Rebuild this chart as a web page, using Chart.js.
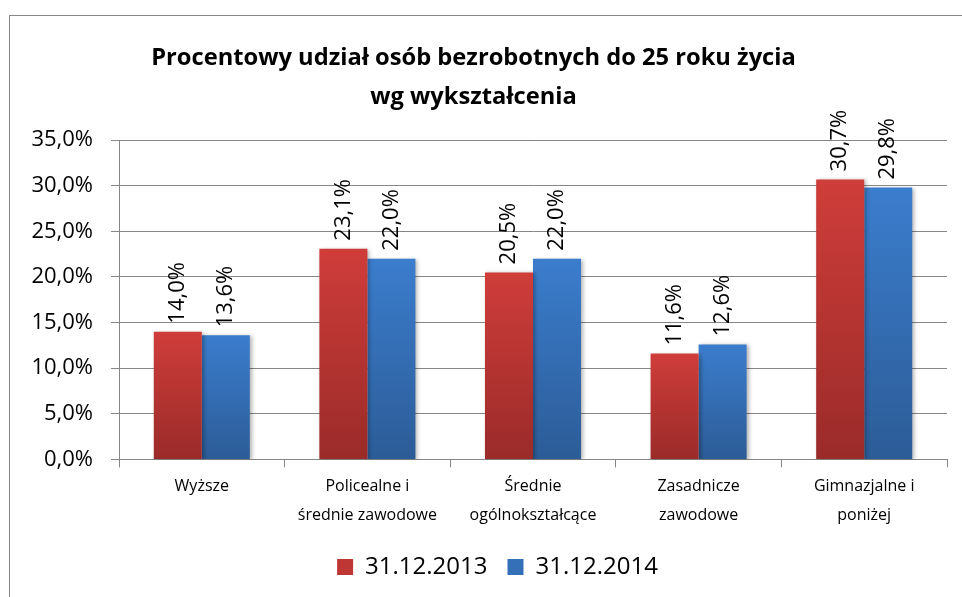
<!DOCTYPE html>
<html>
<head>
<meta charset="utf-8">
<script src="https://cdn.jsdelivr.net/npm/chart.js@4"></script>
<style>
  html, body { margin: 0; padding: 0; background: #fff; overflow: hidden; }
  #wrap { position: relative; width: 962px; height: 597px; }
  #frame { position: absolute; left: 9px; top: 15px; width: 1000px; height: 700px; border: 1px solid #868686; }
  canvas { position: absolute; left: 0; top: 0; }
</style>
</head>
<body>
<div id="wrap">
  <div id="frame"></div>
  <canvas id="barchart" width="962" height="597"></canvas>
</div>
<script>
// Data
const categories = ['Wyższe', ['Policealne i', 'średnie zawodowe'], ['Średnie', 'ogólnokształcące'], ['Zasadnicze', 'zawodowe'], ['Gimnazjalne i', 'poniżej']];
const seriesNames = ['31.12.2013', '31.12.2014'];
const values2013 = [14.0, 23.1, 20.5, 11.6, 30.7];
const values2014 = [13.6, 22.0, 22.0, 12.6, 29.8];
const yTicks = [0, 5, 10, 15, 20, 25, 30, 35];

const FONT = "'Open Sans', 'Noto Sans', sans-serif";

function fmt(v) {
    return v.toFixed(1).replace('.', ',') + '%';
}

// vertical gradient per bar, like the Excel fill
function barFill(top, bottom) {
    return function (context) {
        const chart = context.chart;
        const area = chart.chartArea;
        if (!area || context.parsed === undefined) return top;
        const y = chart.scales.y.getPixelForValue(context.parsed.y);
        const g = chart.ctx.createLinearGradient(0, y, 0, area.bottom);
        g.addColorStop(0, top);
        g.addColorStop(1, bottom);
        return g;
    };
}

// shadow under the bars plus rotated value labels
const barExtras = {
    id: 'barExtras',
    afterLayout(chart) {
        // legend sits a bit right of the canvas centre in the original
        chart.legend.left += 24;
        chart.legend.right += 24;
    },
    beforeDatasetsDraw(chart) {
        const c = chart.ctx;
        c.save();
        c.shadowColor = 'rgba(0,0,0,0.3)';
        c.shadowBlur = 4;
        c.shadowOffsetX = 2;
        c.shadowOffsetY = 1;
    },
    afterDatasetsDraw(chart) {
        const c = chart.ctx;
        c.restore();
        c.save();
        c.font = '22px ' + FONT;
        c.fillStyle = '#000';
        c.textAlign = 'left';
        c.textBaseline = 'middle';
        chart.data.datasets.forEach((ds, i) => {
            chart.getDatasetMeta(i).data.forEach((bar, j) => {
                c.save();
                c.translate(bar.x, bar.y - 8);
                c.rotate(-Math.PI / 2);
                c.fillText(fmt(ds.data[j]), 0, 0);
                c.restore();
            });
        });
        c.restore();
    }
};

let ctx = document.getElementById('barchart').getContext('2d');
let barchart = new Chart(ctx, {
    type: 'bar',
    data: {
        labels: categories,
        datasets: [{
            label: seriesNames[0],
            data: values2013,
            backgroundColor: barFill('#CF3D3A', '#9A2B29'),
            borderWidth: 0
        }, {
            label: seriesNames[1],
            data: values2014,
            backgroundColor: barFill('#3B7DCD', '#2C5C97'),
            borderWidth: 0
        }]
    },
    plugins: [barExtras],
    options: {
        responsive: false,
        animation: false,
        layout: { padding: { left: 0, right: 15, top: 0, bottom: 8 } },
        datasets: {
            bar: { categoryPercentage: 0.58, barPercentage: 1.0 }
        },
        plugins: {
            title: {
                display: true,
                text: ['Procentowy udział osób bezrobotnych do 25 roku życia', 'wg wykształcenia'],
                color: '#000',
                font: { family: FONT, size: 23.7, weight: 'bold', lineHeight: 1.67 },
                padding: { top: 38, bottom: 23 }
            },
            legend: {
                position: 'bottom',
                labels: {
                    color: '#000',
                    font: { family: FONT, size: 24 },
                    boxWidth: 16,
                    boxHeight: 16,
                    padding: 20,
                    generateLabels(chart) {
                        const cols = ['#BE3734', '#3470B8'];
                        return chart.data.datasets.map((ds, i) => ({
                            text: ds.label,
                            fillStyle: cols[i],
                            strokeStyle: cols[i],
                            lineWidth: 0,
                            datasetIndex: i,
                            hidden: false
                        }));
                    }
                }
            },
            tooltip: { enabled: false }
        },
        scales: {
            x: {
                grid: {
                    offset: true,
                    drawOnChartArea: false,
                    drawTicks: true,
                    tickLength: 8,
                    color: '#868686'
                },
                border: { display: true, color: '#868686' },
                ticks: {
                    color: '#000',
                    font: { family: FONT, size: 16, lineHeight: 1.8 },
                    padding: 5,
                    maxRotation: 0,
                    autoSkip: false
                }
            },
            y: {
                min: 0,
                max: 35,
                afterFit(scale) { scale.width = 119; },
                afterBuildTicks(scale) { scale.ticks = yTicks.map(v => ({ value: v })); },
                grid: { color: '#868686', tickLength: 8 },
                border: { display: true, color: '#868686' },
                ticks: {
                    color: '#000',
                    font: { family: FONT, size: 22 },
                    padding: 18,
                    callback: v => fmt(v)
                }
            }
        }
    }
});
</script>
</body>
</html>
